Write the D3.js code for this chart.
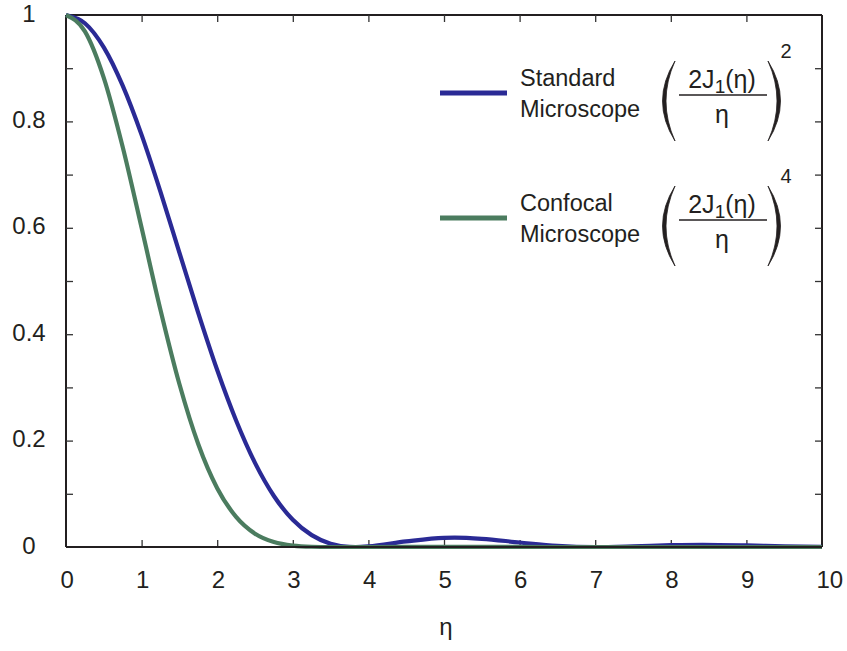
<!DOCTYPE html>
<html>
<head>
<meta charset="utf-8">
<script src="https://cdn.jsdelivr.net/npm/d3@7"></script>
<style>
  body { margin: 0; background: #fff; }
  text { font-family: "Liberation Sans", Arial, Helvetica, sans-serif; fill: #231f20; }
</style>
</head>
<body>
<svg id="chart" width="847" height="651"></svg>
<script>
// ---- data ----
const etaValues = [0, 0.25, 0.5, 0.75, 1.0, 1.25, 1.5, 1.75, 2.0, 2.25, 2.5, 2.75, 3.0, 3.25, 3.5, 3.75, 3.83, 4.0, 4.5, 5.0, 5.14, 5.5, 6.0, 6.5, 7.0, 7.5, 8.0, 8.42, 9.0, 9.5, 10];
const standardValues = [1, 0.9845, 0.9391, 0.8671, 0.7746, 0.6675, 0.5534, 0.4396, 0.3326, 0.2378, 0.1581, 0.0959, 0.0511, 0.0223, 0.0062, 0.0003, 0, 0.0011, 0.0105, 0.0172, 0.0175, 0.0154, 0.0085, 0.0022, 0, 0.0013, 0.0034, 0.0042, 0.0030, 0.0012, 0.0001];
const confocalValues = [1, 0.9693, 0.8819, 0.7519, 0.6000, 0.4455, 0.3063, 0.1932, 0.1106, 0.0566, 0.0250, 0.0092, 0.0026, 0.0005, 0.00004, 0, 0, 0, 0.0001, 0.0003, 0.0003, 0.0002, 0.0001, 0, 0, 0, 0, 0, 0, 0, 0];
const xTickValues = [0, 1, 2, 3, 4, 5, 6, 7, 8, 9, 10];
const yTickValues = [0, 0.1, 0.2, 0.3, 0.4, 0.5, 0.6, 0.7, 0.8, 0.9, 1];
const yTickLabels = ["0", "0.2", "0.4", "0.6", "0.8", "1"];
const yLabelValues = [0, 0.2, 0.4, 0.6, 0.8, 1];
const seriesNames = ["Standard", "Confocal"];
const seriesColors = ["#2a2a95", "#4b7c5f"];
const seriesPowers = ["2", "4"];

// ---- layout ----
const svg = d3.select("#chart");
const L = 66, R = 822, T = 15, B = 547;
const x = d3.scaleLinear().domain([0, 10]).range([L, R]);
const y = d3.scaleLinear().domain([0, 1]).range([B, T]);
const axisColor = "#231f20";
const tickLen = 7;

// frame (top, left, right)
svg.append("line").attr("x1", L).attr("x2", R).attr("y1", T).attr("y2", T).attr("stroke", axisColor).attr("stroke-width", 2);
svg.append("line").attr("x1", L).attr("x2", L).attr("y1", T).attr("y2", B).attr("stroke", axisColor).attr("stroke-width", 2);
svg.append("line").attr("x1", R).attr("x2", R).attr("y1", T).attr("y2", B).attr("stroke", axisColor).attr("stroke-width", 2);

// ticks using d3 axes (inward)
const xBottom = d3.axisBottom(x).tickValues(xTickValues.slice(1, -1)).tickSizeInner(-tickLen).tickSizeOuter(0).tickFormat("");
const xTop = d3.axisTop(x).tickValues(xTickValues.slice(1, -1)).tickSizeInner(-tickLen).tickSizeOuter(0).tickFormat("");
const yLeft = d3.axisLeft(y).tickValues(yTickValues.slice(1, -1)).tickSizeInner(-tickLen).tickSizeOuter(0).tickFormat("");
const yRight = d3.axisRight(y).tickValues(yTickValues.slice(1, -1)).tickSizeInner(-tickLen).tickSizeOuter(0).tickFormat("");
function styleAxis(g) {
  g.select(".domain").remove();
  g.selectAll(".tick line").attr("stroke", "#333").attr("stroke-width", 1.3);
}
svg.append("g").attr("transform", `translate(0,${B})`).call(xBottom).call(styleAxis);
svg.append("g").attr("transform", `translate(0,${T})`).call(xTop).call(styleAxis);
svg.append("g").attr("transform", `translate(${L},0)`).call(yLeft).call(styleAxis);
svg.append("g").attr("transform", `translate(${R},0)`).call(yRight).call(styleAxis);

// tick labels
svg.append("g").selectAll("text").data(xTickValues).join("text")
  .attr("x", d => x(d) - 5.5).attr("y", B + 41)
  .attr("font-size", 24).attr("text-anchor", "start")
  .text(d => d);
svg.append("g").selectAll("text").data(yLabelValues).join("text")
  .attr("x", 29).attr("y", d => y(d) + 6.5)
  .attr("font-size", 24).attr("text-anchor", "middle")
  .text((d, i) => yTickLabels[i]);

// x-axis title
svg.append("text").attr("x", 446).attr("y", 635).attr("font-size", 24)
  .attr("text-anchor", "middle").text("η");

// curves
const line = d3.line().x(d => x(d[0])).y(d => y(d[1])).curve(d3.curveMonotoneX);
const series = [standardValues, confocalValues];
series.forEach((vals, i) => {
  svg.append("path")
    .datum(etaValues.map((e, j) => [e, vals[j]]))
    .attr("d", line)
    .attr("fill", "none")
    .attr("stroke", seriesColors[i])
    .attr("stroke-width", 4.2)
    .attr("stroke-linejoin", "round");
});

// bottom axis line on top
svg.append("line").attr("x1", L).attr("x2", R).attr("y1", B).attr("y2", B).attr("stroke", axisColor).attr("stroke-width", 2);

// legend
seriesNames.forEach((name, i) => {
  const oy = i * 125;
  const g = svg.append("g").attr("transform", `translate(0,${oy})`);
  g.append("line").attr("x1", 440).attr("x2", 507).attr("y1", 93).attr("y2", 93)
    .attr("stroke", seriesColors[i]).attr("stroke-width", 5);
  g.append("text").attr("x", 520).attr("y", 86).attr("font-size", 23.5).text(name);
  g.append("text").attr("x", 520).attr("y", 117).attr("font-size", 23.5).text("Microscope");
  // parens
  g.append("path")
    .attr("d", "M675,61 Q650,101 675,141 Q657,101 675,61 Z")
    .attr("fill", axisColor).attr("stroke", axisColor).attr("stroke-width", 0.8);
  g.append("path")
    .attr("d", "M768,61 Q793,101 768,141 Q786,101 768,61 Z")
    .attr("fill", axisColor).attr("stroke", axisColor).attr("stroke-width", 0.8);
  // numerator
  const num = g.append("text").attr("x", 722).attr("y", 88).attr("font-size", 25).attr("text-anchor", "middle");
  num.append("tspan").text("2J");
  num.append("tspan").attr("font-size", 19).attr("dy", 5).text("1");
  num.append("tspan").attr("dy", -5).text("(η)");
  g.append("line").attr("x1", 679).attr("x2", 767).attr("y1", 95).attr("y2", 95)
    .attr("stroke", axisColor).attr("stroke-width", 1.6);
  g.append("text").attr("x", 722).attr("y", 123).attr("font-size", 25).attr("text-anchor", "middle").text("η");
  g.append("text").attr("x", 786).attr("y", 58).attr("font-size", 20).attr("text-anchor", "middle").text(seriesPowers[i]);
});
</script>
</body>
</html>
